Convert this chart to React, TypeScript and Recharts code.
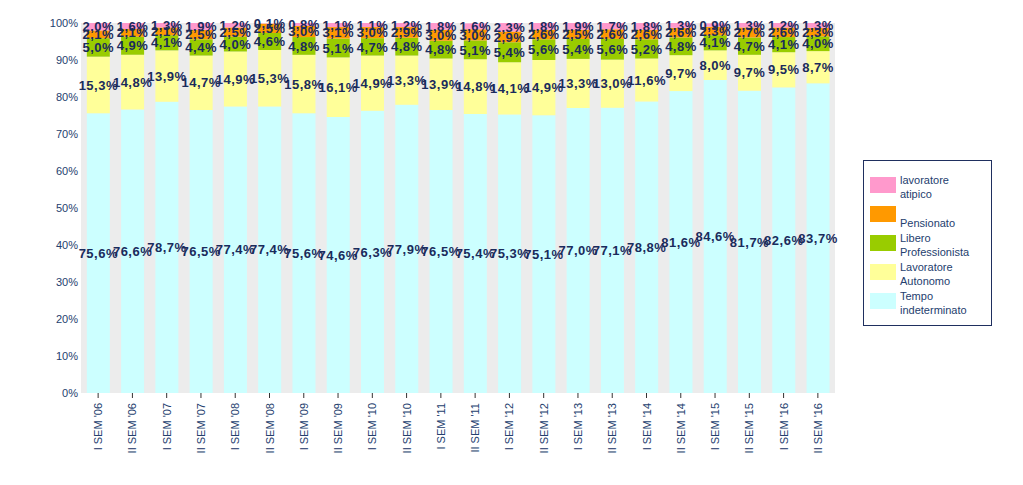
import React from 'react';
import { BarChart, Bar, XAxis, YAxis, LabelList, CartesianGrid } from 'recharts';

const periods = [
  "I SEM '06", "II SEM '06", "I SEM '07", "II SEM '07", "I SEM '08", "II SEM '08",
  "I SEM '09", "II SEM '09", "I SEM '10", "II SEM '10", "I SEM '11", "II SEM '11",
  "I SEM '12", "II SEM '12", "I SEM '13", "II SEM '13", "I SEM '14", "II SEM '14",
  "I SEM '15", "II SEM '15", "I SEM '16", "II SEM '16",
];

const tempoIndeterminato = [75.6, 76.6, 78.7, 76.5, 77.4, 77.4, 75.6, 74.6, 76.3, 77.9, 76.5, 75.4, 75.3, 75.1, 77.0, 77.1, 78.8, 81.6, 84.6, 81.7, 82.6, 83.7];
const lavoratoreAutonomo = [15.3, 14.8, 13.9, 14.7, 14.9, 15.3, 15.8, 16.1, 14.9, 13.3, 13.9, 14.8, 14.1, 14.9, 13.3, 13.0, 11.6, 9.7, 8.0, 9.7, 9.5, 8.7];
const liberoProfessionista = [5.0, 4.9, 4.1, 4.4, 4.0, 4.6, 4.8, 5.1, 4.7, 4.8, 4.8, 5.1, 5.4, 5.6, 5.4, 5.6, 5.2, 4.8, 4.1, 4.7, 4.1, 4.0];
const pensionato = [2.1, 2.1, 2.1, 2.5, 2.5, 2.5, 3.0, 3.1, 3.0, 2.9, 3.0, 3.0, 2.9, 2.6, 2.5, 2.6, 2.6, 2.6, 2.3, 2.7, 2.6, 2.3];
const lavoratoreAtipico = [2.0, 1.6, 1.3, 1.9, 1.2, 0.1, 0.8, 1.1, 1.1, 1.2, 1.8, 1.6, 2.3, 1.8, 1.9, 1.7, 1.8, 1.3, 0.9, 1.3, 1.2, 1.3];

const yTicks = [0, 10, 20, 30, 40, 50, 60, 70, 80, 90, 100];

// bottom to top
const SERIES = [
  { key: 'tempo', name: 'Tempo indeterminato', lines: ['Tempo', 'indeterminato'], color: '#ccffff' },
  { key: 'autonomo', name: 'Lavoratore Autonomo', lines: ['Lavoratore', 'Autonomo'], color: '#ffff99' },
  { key: 'libero', name: 'Libero Professionista', lines: ['Libero', 'Professionista'], color: '#99cc00' },
  { key: 'pensionato', name: 'Pensionato', lines: ['', 'Pensionato'], color: '#ff9900' },
  { key: 'atipico', name: 'lavoratore atipico', lines: ['lavoratore', 'atipico'], color: '#ff99cc' },
];

const data = periods.map((p, i) => ({
  period: p,
  tempo: tempoIndeterminato[i],
  autonomo: lavoratoreAutonomo[i],
  libero: liberoProfessionista[i],
  pensionato: pensionato[i],
  atipico: lavoratoreAtipico[i],
}));

const TEXT = '#24406e';
const LABEL = '#1a2b5c';

const fmt = (v: number) => v.toFixed(1).replace('.', ',') + '%';

const SegLabel = (props: any) => {
  const { x, y, width, height, value } = props;
  return (
    <text
      x={x + width / 2}
      y={y + height / 2}
      dy="0.36em"
      textAnchor="middle"
      fontFamily="'Liberation Sans', Arial, sans-serif"
      fontWeight="bold"
      fontSize={13}
      letterSpacing={0.5}
      fill={LABEL}
    >
      {fmt(value)}
    </text>
  );
};

const XTick = (props: any) => {
  const { x, y, payload } = props;
  return (
    <g transform={`translate(${x},${y})`}>
      <text
        x={-3}
        y={0}
        dy={4}
        textAnchor="end"
        transform="rotate(-90)"
        fontFamily="'Liberation Sans', Arial, sans-serif"
        fontSize={11}
        fill={TEXT}
      >
        {payload.value}
      </text>
    </g>
  );
};

const LegendBox = () => (
  <div
    style={{
      position: 'absolute',
      left: 855,
      top: 152,
      width: 127,
      height: 164,
      border: '1px solid #1f2f5f',
      background: '#fff',
      fontFamily: "'Liberation Sans', Arial, sans-serif",
      fontSize: 11,
      color: TEXT,
    }}
  >
    {[...SERIES].reverse().map((s, i) => (
      <div key={s.key} style={{ position: 'absolute', left: 6, top: 16 + i * 29 }}>
        <div style={{ position: 'absolute', left: 0, top: 0, width: 26, height: 16, background: s.color }} />
        <div style={{ position: 'absolute', left: 30, top: -4, lineHeight: '14px', whiteSpace: 'nowrap' }}>
          <div style={{ height: 14 }}>{s.lines[0]}</div>
          <div style={{ height: 14 }}>{s.lines[1]}</div>
        </div>
      </div>
    ))}
  </div>
);

export default function App() {
  return (
    <div style={{ position: 'relative', width: 1007, height: 469 }}>
      <BarChart
        width={1007}
        height={469}
        data={data}
        margin={{ top: 15, right: 180, bottom: 0, left: 0 }}
        barCategoryGap="17%"
      >
        <CartesianGrid fill="#ececec" horizontal={false} vertical={false} />
        <XAxis
          dataKey="period"
          interval={0}
          height={84}
          tick={<XTick />}
          tickSize={5}
          tickMargin={2}
          axisLine={false}
          tickLine={{ stroke: '#333' }}
        />
        <YAxis
          width={73}
          domain={[0, 100]}
          ticks={yTicks}
          allowDataOverflow
          tickFormatter={(v: number) => `${v}%`}
          axisLine={false}
          tickLine={false}
          tickSize={2}
          tickMargin={1}
          tick={{ fill: TEXT, fontSize: 11, fontFamily: "'Liberation Sans', Arial, sans-serif" }}
        />
        {SERIES.map((s) => (
          <Bar key={s.key} dataKey={s.key} name={s.name} stackId="a" fill={s.color} isAnimationActive={false}>
            <LabelList dataKey={s.key} content={<SegLabel />} />
          </Bar>
        ))}
      </BarChart>
      <LegendBox />
    </div>
  );
}
